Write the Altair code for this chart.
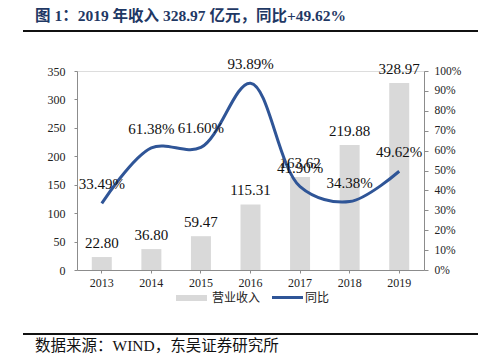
import altair as alt
import pandas as pd

years = ["2013", "2014", "2015", "2016", "2017", "2018", "2019"]
revenue = [22.80, 36.80, 59.47, 115.31, 163.62, 219.88, 328.97]
yoy = [0.3349, 0.6138, 0.6160, 0.9389, 0.4190, 0.3438, 0.4962]

left_ticks = [0, 50, 100, 150, 200, 250, 300, 350]
right_ticks = [0, 0.1, 0.2, 0.3, 0.4, 0.5, 0.6, 0.7, 0.8, 0.9, 1.0]

title_text = "图 1：2019 年收入 328.97 亿元，同比+49.62%"
source_text = "数据来源：WIND，东吴证券研究所"
legend_bar = "营业收入"
legend_line = "同比"

df = pd.DataFrame({"year": years, "revenue": revenue, "yoy": yoy})
df["rev_label"] = [f"{v:.2f}" for v in revenue]
df["yoy_label"] = [f"{v*100:.2f}%" for v in yoy]

SERIF = "Liberation Serif, Noto Sans CJK SC"
CJK = "Noto Sans CJK SC"
BAR_C = "#d9d9d9"
LINE_C = "#2f5597"
AXIS_C = "#8c8c8c"

x_enc = alt.X(
    "year:N",
    sort=years,
    scale=alt.Scale(paddingInner=0, paddingOuter=0),
    axis=alt.Axis(
        title=None, labelAngle=0, labelFont=SERIF, labelFontSize=12,
        labelColor="#222", domainColor=AXIS_C, tickColor=AXIS_C,
        tickSize=3, labelPadding=4, grid=False, labelOverlap=False,
    ),
)

y_left = alt.Y(
    "revenue:Q",
    scale=alt.Scale(domain=[0, 350], nice=False),
    axis=alt.Axis(
        title=None, values=left_ticks, tickCount=8, labelFont=SERIF,
        labelFontSize=12, labelColor="#222", domainColor=AXIS_C,
        tickColor=AXIS_C, tickSize=3, labelPadding=9, grid=False,
        labelOverlap=False,
    ),
)
y_right = alt.Y(
    "yoy:Q",
    scale=alt.Scale(domain=[0, 1], nice=False),
    axis=alt.Axis(
        title=None, orient="right", values=right_ticks, tickCount=11,
        format=".0%", labelFont=SERIF, labelFontSize=11.5,
        labelColor="#222", domainColor=AXIS_C, tickColor=AXIS_C,
        tickSize=4, labelPadding=6, grid=False, labelOverlap=False,
    ),
)

base = alt.Chart(df)

bars = base.mark_bar(color=BAR_C, size=20).encode(x=x_enc, y=y_left)
bar_text = base.mark_text(
    font=SERIF, fontSize=15, color="#111", baseline="middle", dy=-14
).encode(x=x_enc, y=y_left, text="rev_label:N")

left = alt.layer(bars, bar_text)

line = base.mark_line(
    color=LINE_C, strokeWidth=3, interpolate="catmull-rom"
).encode(x=x_enc, y=y_right)
line_text = base.mark_text(
    font=SERIF, fontSize=15, color="#111", baseline="middle", dy=-19
).encode(x=x_enc, y=y_right, text="yoy_label:N")

right = alt.layer(line, line_text)

# annotations (title, rules, legend, source)
ann = pd.DataFrame({"k": [0]})
a = alt.Chart(ann)
title_mark = a.mark_text(
    text=title_text, font=SERIF, fontSize=15.5, fontWeight="bold",
    color="#1f3864", align="left", baseline="alphabetic",
).encode(x=alt.value(-42), y=alt.value(-50))
top_rule = a.mark_rule(color="#111", strokeWidth=2).encode(
    x=alt.value(-54), x2=alt.value(406), y=alt.value(-40)
)
bottom_rule = a.mark_rule(color="#111", strokeWidth=2).encode(
    x=alt.value(-54), x2=alt.value(406), y=alt.value(263)
)
source_mark = a.mark_text(
    text=source_text, font=SERIF, fontSize=15.5, color="#111",
    align="left", baseline="alphabetic",
).encode(x=alt.value(-42), y=alt.value(280))
leg_rect = a.mark_rect(color=BAR_C).encode(
    x=alt.value(99), x2=alt.value(130), y=alt.value(224), y2=alt.value(230)
)
leg_rect_text = a.mark_text(
    text=legend_bar, font=CJK, fontSize=12, color="#222",
    align="left", baseline="middle",
).encode(x=alt.value(135), y=alt.value(227))
leg_line = a.mark_rule(color=LINE_C, strokeWidth=3).encode(
    x=alt.value(195), x2=alt.value(226), y=alt.value(226.5)
)
leg_line_text = a.mark_text(
    text=legend_line, font=CJK, fontSize=12, color="#222",
    align="left", baseline="middle",
).encode(x=alt.value(228), y=alt.value(227))

chart = alt.layer(
    left, right, title_mark, top_rule, bottom_rule, source_mark,
    leg_rect, leg_rect_text, leg_line, leg_line_text,
).resolve_scale(y="independent").properties(
    width=347, height=199,
    autosize=alt.AutoSizeParams(type="none"),
    padding={"left": 69, "top": 63, "right": 54, "bottom": 84},
).configure_view(stroke=None).configure(background="white")

chart.save("out.html", embed_options={"renderer": "svg", "actions": False})
